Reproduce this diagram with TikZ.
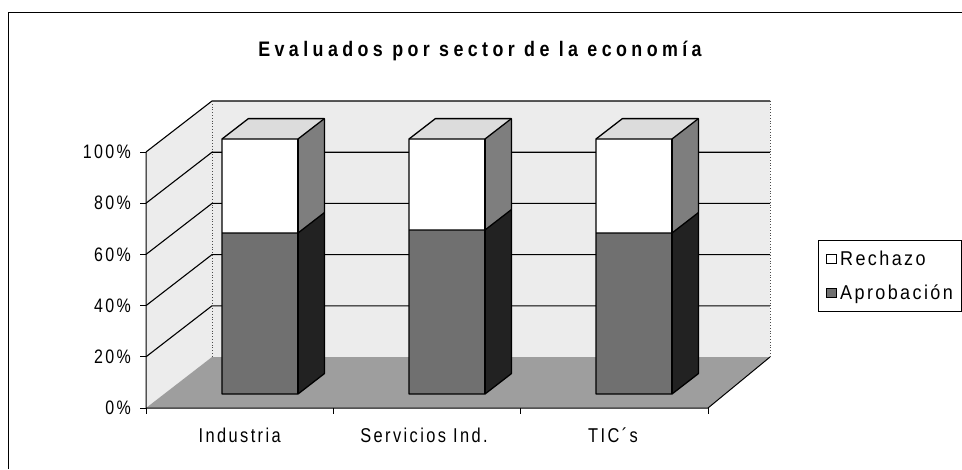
\documentclass[tikz,border=0pt]{standalone}
\usepackage{fontspec}
\newfontfamily\chartfont[FakeStretch=0.82,LetterSpace=12]{Liberation Sans}
\newfontfamily\legfont[FakeStretch=0.9,LetterSpace=12]{Liberation Sans}
\newfontfamily\titlefont[FakeStretch=0.85,LetterSpace=21]{Liberation Sans}
\definecolor{wallgray}{HTML}{ECECEC}
\definecolor{floorgray}{HTML}{9E9E9E}
\definecolor{aprfront}{HTML}{707070}
\definecolor{aprside}{HTML}{222222}
\definecolor{rechside}{HTML}{7E7E7E}
\definecolor{topgray}{HTML}{DCDCDC}
\tikzset{
  gridln/.style={line width=1.1pt,black},
  barln/.style={line width=1.3pt,black,line join=round},
  edgedot/.style={line width=0.8pt,dotted,black!70},
  axln/.style={line width=1pt,black},
  ylab/.style={anchor=east,font=\chartfont\fontsize{19.5}{19.5}\selectfont,inner sep=0pt},
  xlab/.style={anchor=base,font=\chartfont\fontsize{20}{20}\selectfont,inner sep=0pt},
  leglab/.style={anchor=base west,font=\legfont\fontsize{20}{20}\selectfont,inner sep=0pt},
}
\begin{document}
\begin{tikzpicture}[x=1pt,y=-1pt]
\useasboundingbox (0,0) rectangle (962,469);
% outer frame
\draw[line width=0.9pt] (8,469) -- (8,12) -- (962,12);
% title
\node[font=\titlefont\bfseries\fontsize{21}{21}\selectfont,anchor=base,inner sep=0pt] (title) at (480,56) {Evaluados por sector de la economía};
% walls and floor
\fill[wallgray] (146,152) -- (212,101) -- (212,357) -- (146,408) -- cycle;
\fill[wallgray] (212,101) rectangle (770,357);
\fill[floorgray] (146,408) -- (708,408) -- (770,357) -- (212,357) -- cycle;
% gridlines
\foreach \k in {1,...,5}{
  \draw[gridln] (146,{408-51.2*\k}) -- (212,{357-51.2*\k}) -- (770,{357-51.2*\k});
}
\draw[edgedot] (212,101) -- (212,357);
\draw[edgedot] (770,101) -- (770,357);
% axes
\draw[axln] (146,152) -- (146,408) -- (708,408) -- (770,357);
\foreach \k in {0,...,5}{
  \draw[axln] (140,{408-51.2*\k}) -- (146,{408-51.2*\k});
}
\foreach \x in {146,333.3,520.7,708}{
  \draw[axln] (\x,408) -- (\x,414);
}
% y labels
\node[ylab] (y0) at (131,408) {0\%};
\node[ylab] (y20) at (131,356.8) {20\%};
\node[ylab] (y40) at (131,305.6) {40\%};
\node[ylab] (y60) at (131,254.4) {60\%};
\node[ylab] (y80) at (131,203.2) {80\%};
\node[ylab] (y100) at (131,152) {100\%};
% bars
\foreach \x/\b in {222/233,409/230,596/233}{
  \fill[aprfront] (\x,\b) rectangle ({\x+76},394);
  \fill[white] (\x,139) rectangle ({\x+76},\b);
  \fill[aprside] ({\x+76},394) -- ({\x+102.4},373.6) -- ({\x+102.4},{\b-20.4}) -- ({\x+76},\b) -- cycle;
  \fill[rechside] ({\x+76},\b) -- ({\x+102.4},{\b-20.4}) -- ({\x+102.4},118.6) -- ({\x+76},139) -- cycle;
  \fill[topgray] (\x,139) -- ({\x+76},139) -- ({\x+102.4},118.6) -- ({\x+26.4},118.6) -- cycle;
  \draw[barln] (\x,394) -- (\x,139) -- ({\x+26.4},118.6) -- ({\x+102.4},118.6) -- ({\x+102.4},373.6) -- ({\x+76},394) -- cycle;
  \draw[barln] (\x,139) -- ({\x+76},139) -- ({\x+102.4},118.6);
  \draw[barln] ({\x+76},139) -- ({\x+76},394);
  \draw[barln] (\x,\b) -- ({\x+76},\b) -- ({\x+102.4},{\b-20.4});
}
% category labels
\node[xlab] (c1) at (239.7,442) {Industria};
\node[xlab] (c2) at (424,442) {Servicios Ind.};
\node[xlab] (c3) at (613,442) {TIC´s};
% legend
\draw[line width=0.9pt] (818,240) rectangle (961,311);
\draw[line width=0.8pt,fill=white] (826,254) rectangle (836,263);
\draw[line width=0.8pt,fill=aprfront] (826,288) rectangle (836,297);
\node[leglab] (l1) at (840,265) {Rechazo};
\node[leglab] (l2) at (840,299) {Aprobación};
\end{tikzpicture}
\end{document}
